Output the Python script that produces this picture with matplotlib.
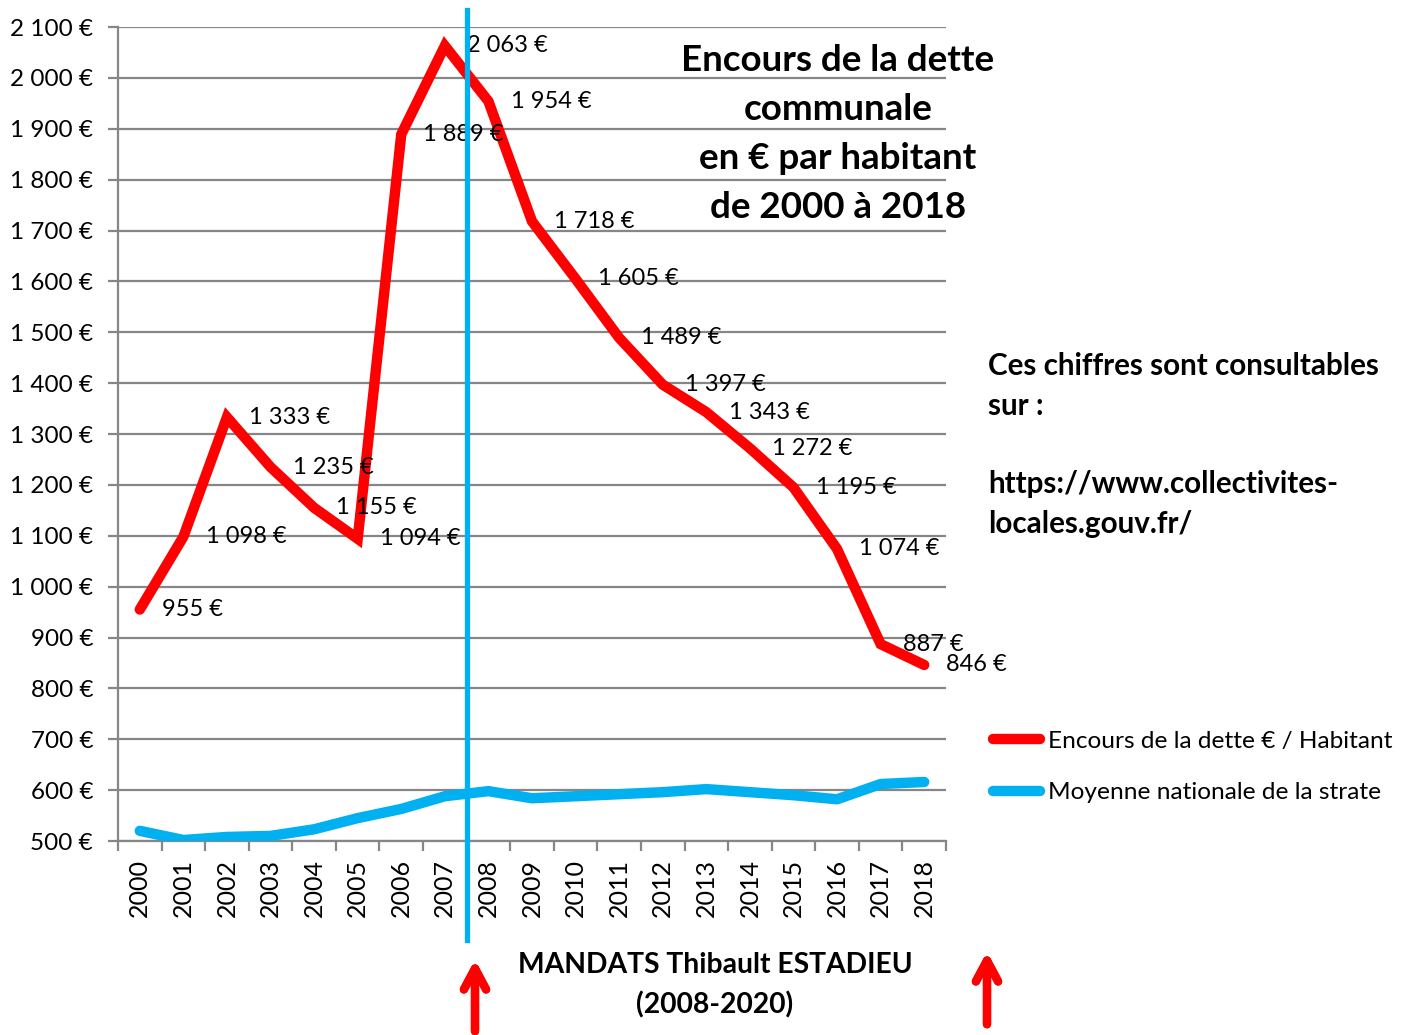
"""Encours de la dette communale en euros par habitant, 2000-2018."""
import matplotlib.pyplot as plt
from matplotlib.ticker import FixedLocator, FuncFormatter, MultipleLocator

plt.rcParams['font.family'] = ['Lato', 'DejaVu Sans']

years = [str(y) for y in range(2000, 2019)]
dette = [955, 1098, 1333, 1235, 1155, 1094, 1889, 2063, 1954, 1718,
         1605, 1489, 1397, 1343, 1272, 1195, 1074, 887, 846]
moyenne = [520, 502, 508, 510, 523, 545, 563, 588, 598, 584,
           588, 592, 596, 602, 596, 590, 582, 612, 616]

RED = '#FF0000'
BLUE = '#00B0F0'
GRID = '#868686'


def euro(v, pos=None):
    return f"{v:,.0f} €".replace(',', ' ')


def main():
    W, H = 1401, 1035
    fig = plt.figure(figsize=(W / 100, H / 100), dpi=100)
    ax = fig.add_axes([118 / W, 1 - 841 / H, (946 - 118) / W, (841 - 27) / H])

    x = list(range(len(years)))
    l1, = ax.plot(x, dette, color=RED, lw=7.5, solid_joinstyle='miter',
                  solid_capstyle='round',
                  label='Encours de la dette € / Habitant', zorder=3)
    l2, = ax.plot(x, moyenne, color=BLUE, lw=7.5, solid_capstyle='round',
                  label='Moyenne nationale de la strate', zorder=3)

    for xi, v in zip(x, dette):
        ax.annotate(euro(v), (xi, v), xytext=(16, 0), textcoords='offset points',
                    ha='left', va='center', fontsize=17, color='black', zorder=4)

    # start of mandate marker
    ax.axvline(7.5, ymin=(841 - 940) / 814, ymax=(841 - 10) / 814, color=BLUE,
               lw=3.8, clip_on=False, zorder=5)

    ax.set_xlim(-0.5, len(years) - 0.5)
    ax.set_ylim(500, 2100)
    ax.yaxis.set_major_locator(MultipleLocator(100))
    ax.yaxis.set_major_formatter(FuncFormatter(euro))
    ax.grid(axis='y', color=GRID, lw=1.6)
    ax.set_axisbelow(True)

    ax.xaxis.set_major_locator(FixedLocator([i - 0.5 for i in range(len(years) + 1)]))
    ax.xaxis.set_major_formatter(FuncFormatter(lambda v, p: ''))
    ax.xaxis.set_minor_locator(FixedLocator(x))
    ax.set_xticklabels(years, minor=True, rotation=90, fontsize=18)
    ax.tick_params(axis='x', which='major', length=7, width=1.6, color=GRID)
    ax.tick_params(axis='x', which='minor', length=0, pad=13)
    ax.tick_params(axis='y', length=7, width=1.6, color=GRID, labelsize=17.5, pad=11)

    for side in ('top', 'right'):
        ax.spines[side].set_visible(False)
    for side in ('left', 'bottom'):
        ax.spines[side].set_color(GRID)
        ax.spines[side].set_linewidth(1.6)

    fig.text(838 / W, 1 - 134 / H,
             'Encours de la dette\ncommunale\nen € par habitant\nde 2000 à 2018',
             ha='center', va='center', fontsize=26.5, fontweight='bold',
             linespacing=1.6)
    fig.text(988 / W, 1 - 445 / H,
             'Ces chiffres sont consultables\nsur :\n\nhttps://www.collectivites-\nlocales.gouv.fr/',
             ha='left', va='center', fontsize=21.3, fontweight='bold', linespacing=1.49)
    fig.text(715 / W, 1 - 985 / H, 'MANDATS Thibault ESTADIEU\n(2008-2020)',
             ha='center', va='center', fontsize=20.3, fontweight='bold', linespacing=1.59)

    fig.legend(handles=[l1, l2], loc='center left',
               bbox_to_anchor=(983 / W, 1 - 767 / H), frameon=False,
               fontsize=17.6, handlelength=1.95, handletextpad=0.3,
               labelspacing=1.25, borderaxespad=0)

    for ax0, y0, y1 in ((475, 1034, 957), (987, 1027, 949)):
        fig.add_artist(plt.annotate(
            '', xy=(ax0 / W, 1 - y1 / H), xytext=(ax0 / W, 1 - y0 / H),
            xycoords='figure fraction', textcoords='figure fraction',
            arrowprops=dict(arrowstyle='->,head_length=1.5,head_width=0.8',
                            color=RED, lw=6, capstyle='round',
                            joinstyle='round')))

    fig.savefig('out.png', dpi=100)


if __name__ == '__main__':
    main()
